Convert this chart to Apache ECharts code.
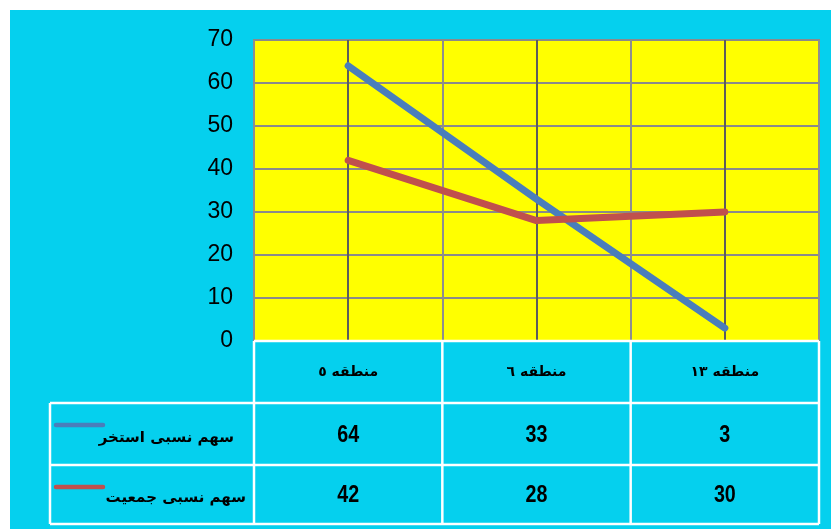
<!DOCTYPE html>
<html><head><meta charset="utf-8">
<script src="https://cdn.jsdelivr.net/npm/echarts@6/dist/echarts.min.js"></script>
<style>html,body{margin:0;padding:0;background:#fff}#c{width:831px;height:529px}</style>
</head><body><div id="c"></div>
<script>
// ---- data ----
const categories = ['منطقه ٥', 'منطقه ٦', 'منطقه ١٣'];
const seriesNames = ['سهم نسبی استخر', 'سهم نسبی جمعیت'];
const poolShare = [64, 33, 3];
const popShare = [42, 28, 30];
const yTickLabels = ['0', '10', '20', '30', '40', '50', '60', '70'];
const seriesColors = ['#4A7EBB', '#C0504D'];

const numFont = "'Liberation Sans', Arial, sans-serif";
const arFont = "'DejaVu Sans', sans-serif";
const CYAN = '#05D0EE';

const chart = echarts.init(document.getElementById('c'));
const halfCats = [];
categories.forEach(() => { halfCats.push(''); halfCats.push(''); });

chart.setOption({
  backgroundColor: '#ffffff',
  animation: false,
  grid: {
    left: 254, right: 12, top: 40, bottom: 188,
    show: true, backgroundColor: '#FFFF00', borderColor: '#8a8a8a', borderWidth: 2
  },
  xAxis: [{
    type: 'category', data: categories, boundaryGap: true,
    axisLine: { show: false }, axisTick: { show: false },
    axisLabel: { margin: 31, verticalAlign: 'middle', color: '#000',
      fontFamily: arFont, fontWeight: 'bold', fontSize: 14 },
    splitLine: { show: false }
  }, {
    type: 'category', data: halfCats, boundaryGap: true, position: 'bottom',
    axisLine: { show: false }, axisTick: { show: false }, axisLabel: { show: false },
    splitLine: { show: true, interval: 0, lineStyle: { color: ['#8e8e8e', '#5c5c5c'], width: 2 } }
  }],
  yAxis: {
    type: 'value', min: 0, max: 70, interval: 10,
    axisLine: { show: false }, axisTick: { show: false },
    axisLabel: { margin: 21, color: '#000', fontFamily: numFont, fontSize: 23,
      formatter: (v) => yTickLabels[Math.round(v / 10)] },
    splitLine: { lineStyle: { color: '#8a8a8a', width: 2 } }
  },
  series: [{
    name: seriesNames[0], type: 'line', data: poolShare, symbol: 'none',
    lineStyle: { color: seriesColors[0], width: 7, cap: 'round', join: 'round' }, z: 3
  }, {
    name: seriesNames[1], type: 'line', data: popShare, symbol: 'none',
    lineStyle: { color: seriesColors[1], width: 7, cap: 'round', join: 'round' }, z: 4
  }]
});

// ---- data table below the plot, placed from the axis scales ----
const centers = categories.map((c, i) => chart.convertToPixel({ xAxisIndex: 0 }, i));
const bw = centers[1] - centers[0];
const xL = centers[0] - bw / 2;
const xR = centers[centers.length - 1] + bw / 2;
const y0 = chart.convertToPixel({ yAxisIndex: 0 }, 0);
const rowH = [62, 62, 59];
const rowTop = [y0, y0 + rowH[0], y0 + rowH[0] + rowH[1]];
const yBottom = rowTop[2] + rowH[2];
const legL = xL - 204;

const g = [];
// cyan backdrop
g.push({ type: 'rect', shape: { x: 10, y: 10, width: 831, height: 529 }, style: { fill: CYAN }, z: -10, silent: true });
const wl = { stroke: '#ffffff', lineWidth: 2.5 };
g.push({ type: 'line', shape: { x1: xL, y1: rowTop[0], x2: xR, y2: rowTop[0] }, style: wl, z: 10 });
g.push({ type: 'line', shape: { x1: legL, y1: rowTop[1], x2: xR, y2: rowTop[1] }, style: wl, z: 10 });
g.push({ type: 'line', shape: { x1: legL, y1: rowTop[2], x2: xR, y2: rowTop[2] }, style: wl, z: 10 });
g.push({ type: 'line', shape: { x1: legL, y1: yBottom, x2: xR, y2: yBottom }, style: wl, z: 10 });
g.push({ type: 'line', shape: { x1: legL, y1: rowTop[1], x2: legL, y2: yBottom }, style: wl, z: 10 });
for (let i = 0; i <= categories.length; i++) {
  const x = xL + i * bw;
  g.push({ type: 'line', shape: { x1: x, y1: rowTop[0], x2: x, y2: yBottom }, style: wl, z: 10 });
}
const rows = [poolShare, popShare];
rows.forEach((vals, r) => {
  const top = rowTop[r + 1];
  const mid = top + rowH[r + 1] / 2 + 1;
  vals.forEach((v, j) => {
    g.push({ type: 'text', x: centers[j], y: mid, z: 11, scaleX: 0.82,
      style: { text: String(v), fill: '#000', font: 'bold 24px ' + numFont, align: 'center', verticalAlign: 'middle' } });
  });
  g.push({ type: 'line', shape: { x1: legL + 6, y1: top + 22, x2: legL + 53, y2: top + 22 },
    style: { stroke: seriesColors[r], lineWidth: 4.5, lineCap: 'round' }, z: 11 });
  g.push({ type: 'text', x: xL - (r === 0 ? 20 : 8), y: mid + 3, z: 11,
    style: { text: seriesNames[r], fill: '#000', font: 'bold 15px ' + arFont, align: 'right', verticalAlign: 'middle' } });
});
chart.setOption({ graphic: g });
</script></body></html>
